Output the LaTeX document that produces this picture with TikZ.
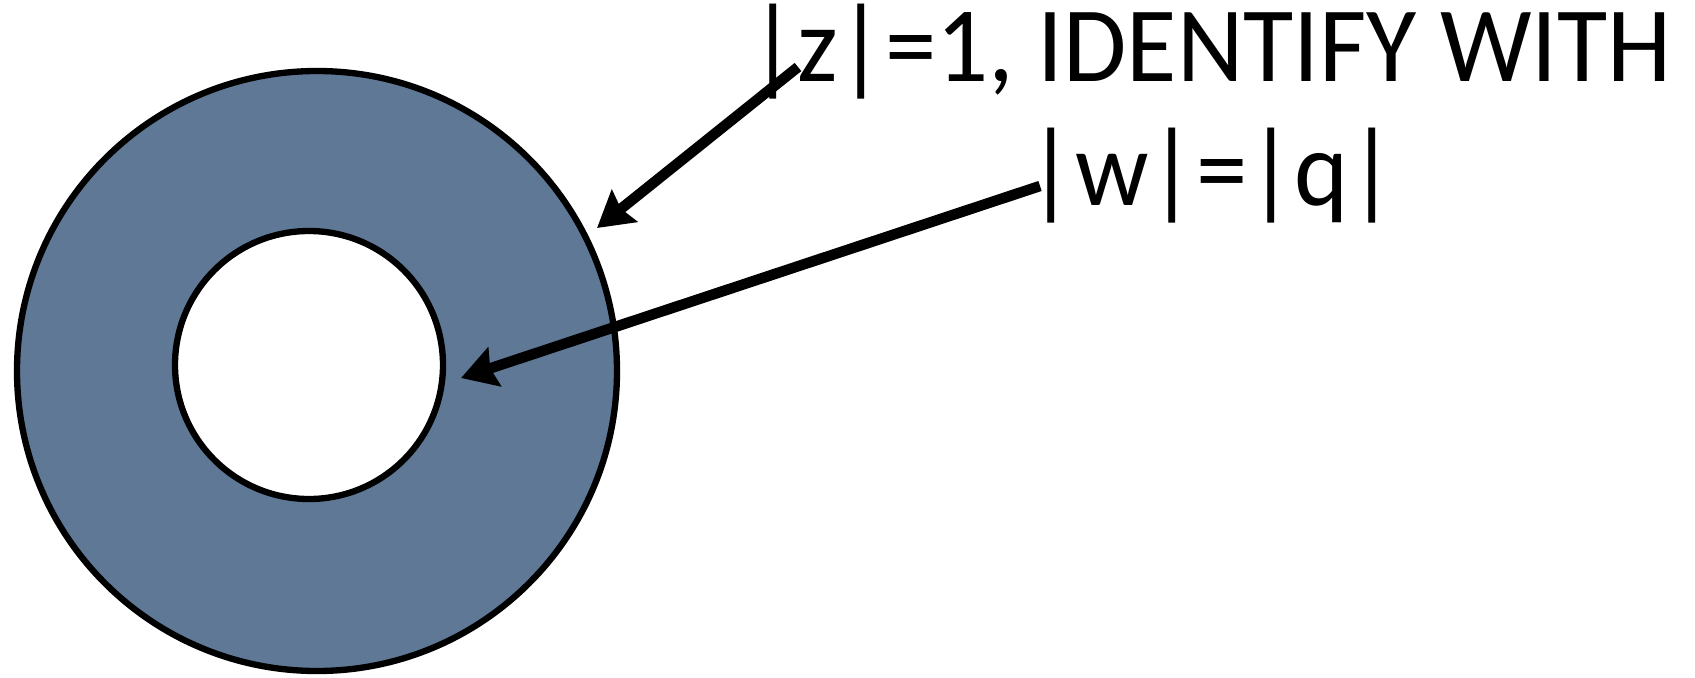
\documentclass[tikz,border=0pt]{standalone}
\usepackage{fontspec}
\setmainfont{Carlito}
\usetikzlibrary{arrows.meta}
\definecolor{ringblue}{RGB}{94,120,150}

\begin{document}
\begin{tikzpicture}[x=0.02cm,y=-0.02cm]

\tikzset{
    ring_edge/.style={
        line width=3.6pt,
        draw=black
    }
}

\tikzset{
    label_arrow/.style={
        line width=6pt,
        -{Stealth[length=20pt, width=23pt, inset=2.5pt]}
    }
}

\tikzset{
    label_text/.style={
        font=\fontsize{61}{68}\selectfont,
        inner sep=0pt,
        anchor=base
    }
}

\useasboundingbox (0,0) rectangle (1695,677);

% anello
\fill[ringblue, even odd rule] (317,371) circle (300) (309,365) circle (134);
\draw[ring_edge] (317,371) circle (300);
\draw[ring_edge, fill=white] (309,365) circle (134);

% testi
\node[label_text] (riga1) at (1211,81) {\scalebox{0.96}[1]{|z|=1, IDENTIFY WITH}};
\node[label_text] (riga2) at (1212,205) {\scalebox{0.96}[1]{|w|=|q|}};

% frecce
\coordinate (coda1) at (798,67);
\coordinate (punta1) at (597,228);
\coordinate (coda2) at (1040,186);
\coordinate (punta2) at (461,378);

\draw[label_arrow] (coda1) -- (punta1);
\draw[label_arrow] (coda2) -- (punta2);

\end{tikzpicture}
\end{document}
